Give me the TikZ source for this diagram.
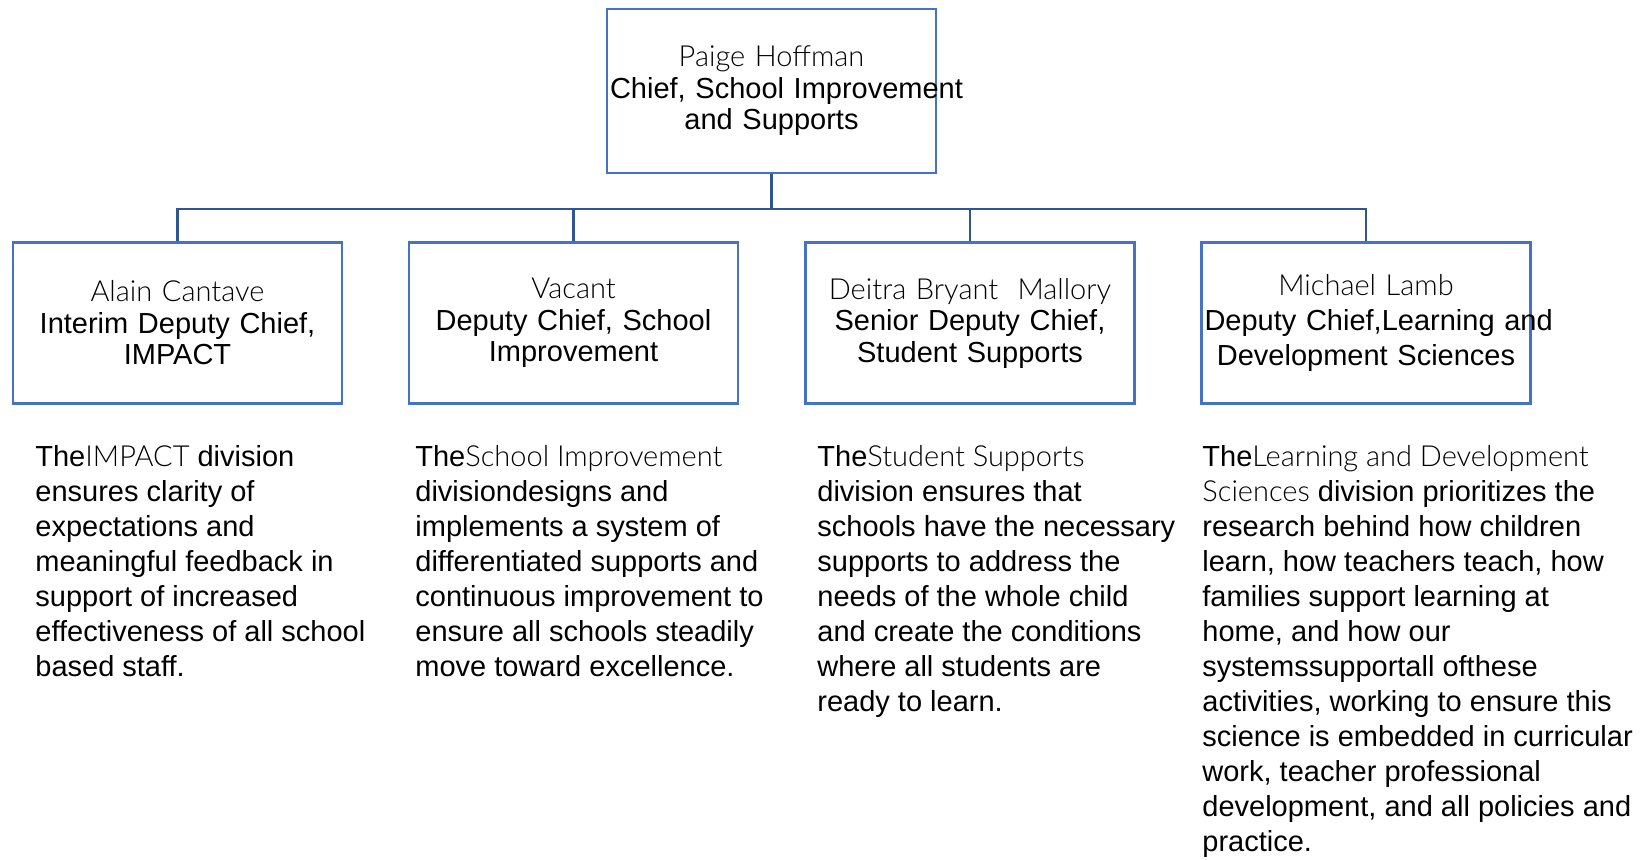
\documentclass[tikz,border=0pt]{standalone}
\usepackage{fontspec}
\setmainfont{Liberation Sans}
\newfontfamily\lightfont{Lato Light}
\usepackage{tikz}
\definecolor{boxblue}{HTML}{4472C4}
\definecolor{lineblue}{HTML}{2F5597}

\begin{document}
\begin{tikzpicture}[x=0.5pt,y=-0.5pt,
		orgbox/.style={draw=boxblue,line width=1.2pt,rectangle,minimum width=164.5pt,minimum height=80.5pt,
			text width=161.5pt,inner xsep=1.5pt,inner ysep=0pt,align=center,
			font=\fontsize{14.5}{15.75}\selectfont},
		desc/.style={anchor=north west,inner sep=0pt,align=left,font=\fontsize{14.5}{17.5}\selectfont},
		conn/.style={draw=lineblue,line width=1.1pt}]
			\useasboundingbox (0,0) rectangle (1649,860);
			\node [orgbox,minimum height=82pt] (chief) at (771.5,91) {{\lightfont Paige Hoffman}\\ \mbox{Chief, School Improvement}\\ and Supports};
			\node [orgbox] (impact) at (177.5,323) {{\lightfont Alain Cantave}\\ Interim Deputy Chief,\\ IMPACT};
			\node [orgbox] (school) at (573.5,323) {{\lightfont Vacant}\\ Deputy Chief, School\\ Improvement};
			\node [orgbox] (student) at (970,323) {{\lightfont Deitra Bryant\ \ Mallory}\\ Senior Deputy Chief,\\ Student Supports};
			\node [orgbox,font=\fontsize{14.5}{17.5}\selectfont] (learning) at (1366,323) {{\lightfont Michael Lamb}\\ \mbox{Deputy Chief,Learning and}\\ Development Sciences};
			\foreach \d in {impact,school,student,learning}
				\draw [conn](chief.south)--++(0,35)-|(\d.north);
			\node [desc] (impactdesc) at (35,445) {The{\lightfont IMPACT} division\\ ensures clarity of\\ expectations and\\ meaningful feedback in\\ support of increased\\ effectiveness of all school\\ based staff.};
			\node [desc] (schooldesc) at (415,445) {The{\lightfont School Improvement}\\ divisiondesigns and\\ implements a system of\\ differentiated supports and\\ continuous improvement to\\ ensure all schools steadily\\ move toward excellence.};
			\node [desc] (studentdesc) at (817,445) {The{\lightfont Student Supports}\\ division ensures that\\ schools have the necessary\\ supports to address the\\ needs of the whole child\\ and create the conditions\\ where all students are\\ ready to learn.};
			\node [desc] (learningdesc) at (1202,445) {The{\lightfont Learning and Development}\\ {\lightfont Sciences} division prioritizes the\\ research behind how children\\ learn, how teachers teach, how\\ families support learning at\\ home, and how our\\ systemssupportall ofthese\\ activities, working to ensure this\\ science is embedded in curricular\\ work, teacher professional\\ development, and all policies and\\ practice.};
		\end{tikzpicture}
\end{document}
